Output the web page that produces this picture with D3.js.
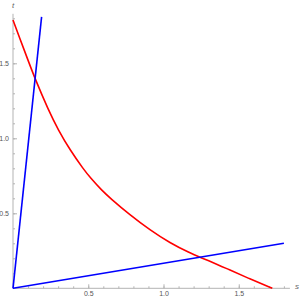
<!DOCTYPE html>
<html lang="en">
<head>
  <meta charset="UTF-8">
  <title>Curves</title>
  <style>
    body {
      margin: 0;
      background: #fff;
      font-family: "Liberation Sans", Arial, sans-serif;
    }
    .axis path { display: none; }
    .axis line { stroke: #b3b3b3; }
    .axis text { fill: #555; font-size: 7px; font-family: "Liberation Sans", Arial, sans-serif; }
  </style>
</head>
<body>
<script src="https://d3js.org/d3.v7.min.js"></script>
<script>
  // data
  const redCurve = [
    [0, 1.789], [0.04, 1.680], [0.102, 1.515], [0.146, 1.398], [0.235, 1.189],
    [0.301, 1.055], [0.379, 0.922], [0.472, 0.789], [0.512, 0.740], [0.589, 0.654],
    [0.645, 0.602], [0.777, 0.489], [0.910, 0.389], [1.043, 0.302], [1.176, 0.235],
    [1.243, 0.207], [1.375, 0.152], [1.420, 0.131], [1.575, 0.062], [1.723, 0]
  ];
  const steepLine = [[0, 0], [0.19, 1.81]];
  const flatLine = [[0, 0], [1.8, 0.3]];
  const majorTicks = [0.5, 1.0, 1.5];
  const minorTicks = d3.range(1, 19).map(i => i / 10);

  const width = 300;
  const height = 299;

  const svg = d3.select('body')
    .append('svg')
    .attr('width', width)
    .attr('height', height);

  const x = d3.scaleLinear().domain([0, 1.8]).range([13, 283.9]);
  const y = d3.scaleLinear().domain([0, 1.8]).range([288.3, 18.3]);

  // axis lines
  svg.append('line')
    .attr('x1', x(0)).attr('x2', x(1.84))
    .attr('y1', y(0)).attr('y2', y(0))
    .attr('stroke', '#b3b3b3').attr('stroke-width', 1);
  svg.append('line')
    .attr('x1', x(0)).attr('x2', x(0))
    .attr('y1', y(0)).attr('y2', y(1.83))
    .attr('stroke', '#b3b3b3').attr('stroke-width', 1);

  // minor ticks
  svg.append('g').attr('class', 'axis')
    .attr('transform', 'translate(0,' + y(0) + ')')
    .call(d3.axisBottom(x).tickValues(minorTicks).tickSize(-2).tickFormat(''));
  svg.append('g').attr('class', 'axis')
    .attr('transform', 'translate(' + x(0) + ',0)')
    .call(d3.axisLeft(y).tickValues(minorTicks).tickSize(-2).tickFormat(''));

  // major ticks + labels
  svg.append('g').attr('class', 'axis')
    .attr('transform', 'translate(0,' + y(0) + ')')
    .call(d3.axisBottom(x).tickValues(majorTicks).tickSize(-4).tickPadding(3).tickFormat(d3.format('.1f')));
  svg.append('g').attr('class', 'axis')
    .attr('transform', 'translate(' + x(0) + ',0)')
    .call(d3.axisLeft(y).tickValues(majorTicks).tickSize(-4).tickPadding(4).tickFormat(d3.format('.1f')));

  // axis names
  svg.append('text')
    .attr('x', x(0)).attr('y', 8)
    .attr('text-anchor', 'middle')
    .attr('font-size', 8).attr('font-style', 'italic')
    .attr('fill', '#666')
    .text('t');
  svg.append('text')
    .attr('x', 297).attr('y', y(0) + 1)
    .attr('text-anchor', 'middle')
    .attr('font-size', 8).attr('font-style', 'italic')
    .attr('fill', '#666')
    .text('s');

  // red curve, smoothed through the read points
  svg.append('path')
    .datum(redCurve)
    .attr('fill', 'none')
    .attr('stroke', '#ff0000')
    .attr('stroke-width', 1.6)
    .attr('d', d3.line().x(d => x(d[0])).y(d => y(d[1])).curve(d3.curveBasis));

  [steepLine, flatLine].forEach(function(d) {
    svg.append('path')
      .datum(d)
      .attr('fill', 'none')
      .attr('stroke', '#0000ff')
      .attr('stroke-width', 1.6)
      .attr('d', d3.line().x(p => x(p[0])).y(p => y(p[1]))(d));
  });
</script>
</body>
</html>
